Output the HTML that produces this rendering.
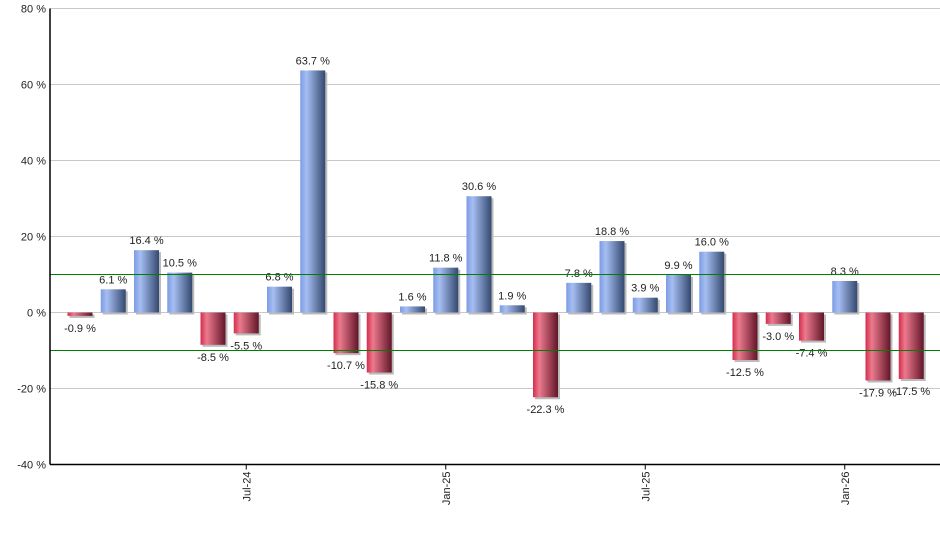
<!DOCTYPE html>
<html><head><meta charset="utf-8"><style>
body{margin:0;background:#fff;}
svg{display:block;font-family:"Liberation Sans",sans-serif;}
</style></head><body>
<svg id="chart" width="940" height="550" viewBox="0 0 940 550">
<defs>
<linearGradient id="gb" x1="0" x2="1" y1="0" y2="0">
<stop offset="0" stop-color="#7c9be4"/><stop offset="0.25" stop-color="#a6bef2"/><stop offset="1" stop-color="#34496f"/></linearGradient>
<linearGradient id="gr" x1="0" x2="1" y1="0" y2="0">
<stop offset="0" stop-color="#d42c4c"/><stop offset="0.25" stop-color="#ec7a8e"/><stop offset="1" stop-color="#621528"/></linearGradient>
</defs>
<g id="grid" shape-rendering="crispEdges"></g><g id="bars"></g><g id="axes"></g>
</svg>
<script>
const months=["Feb-24","Mar-24","Apr-24","May-24","Jun-24","Jul-24","Aug-24","Sep-24","Oct-24","Nov-24","Dec-24","Jan-25","Feb-25","Mar-25","Apr-25","May-25","Jun-25","Jul-25","Aug-25","Sep-25","Oct-25","Nov-25","Dec-25","Jan-26","Feb-26","Mar-26"];
const values=[-0.9,6.1,16.4,10.5,-8.5,-5.5,6.8,63.7,-10.7,-15.8,1.6,11.8,30.6,1.9,-22.3,7.8,18.8,3.9,9.9,16.0,-12.5,-3.0,-7.4,8.3,-17.9,-17.5];
const yTicks=[80,60,40,20,0,-20,-40];
const xLabels=["Jul-24","Jan-25","Jul-25","Jan-26"];
const bands=[10,-10];
const NS="http://www.w3.org/2000/svg";
const L=50,R=940,T=8.5,B=464.5,yMin=-40,yMax=80;
const y=v=>T+(yMax-v)/(yMax-yMin)*(B-T);
const step=33.25, bw=25;
const xc=i=>80+i*step;
function mk(t,a,p){const e=document.createElementNS(NS,t);for(const k in a)e.setAttribute(k,a[k]);p.appendChild(e);return e;}
const grid=document.getElementById('grid'),bars=document.getElementById('bars'),axes=document.getElementById('axes');
yTicks.forEach(v=>{
 const l=mk('line',{x1:L,x2:R,y1:y(v),y2:y(v),stroke:'#c8c8c8','stroke-width':1},grid);
 
 
 const t=mk('text',{x:46,y:y(v)+4,'text-anchor':'end','font-size':11,fill:'#222'},axes);
 t.textContent=v+' %';
 
 
});
values.forEach((v,i)=>{
 const x0=xc(i)-bw/2,top=Math.min(y(v),y(0)),h=Math.abs(y(v)-y(0));
 const s=mk('rect',{x:x0+2,y:top+2,width:bw,height:h,fill:'#bbb'},bars);
 
 
 const r=mk('rect',{x:x0,y:top,width:bw,height:h,fill:v>=0?'url(#gb)':'url(#gr)'},bars);
 
 
 const t=mk('text',{x:xc(i),y:v>=0?y(v)-6:y(v)+16,'text-anchor':'middle','font-size':11,fill:'#222'},bars);
 t.textContent=v.toFixed(1)+' %';
 
 
});
bands.forEach(v=>{
 const l=mk('line',{x1:L,x2:R,y1:y(v),y2:y(v),stroke:'#008000','stroke-width':1,'shape-rendering':'crispEdges'},bars);
 
 
});
const ya=mk('line',{x1:L,x2:L,y1:T,y2:B,stroke:'#000','stroke-width':1.5},axes);


const xa=mk('line',{x1:L,x2:R,y1:B,y2:B,stroke:'#000','stroke-width':1.5},axes);


xLabels.forEach(m=>{
 const i=months.indexOf(m),x=xc(i);
 const tk=mk('line',{x1:x,x2:x,y1:B,y2:B+5,stroke:'#000'},axes);
 
 
 const t=mk('text',{x:0,y:0,'text-anchor':'end','font-size':11,fill:'#222',transform:`translate(${x+4},${B+7}) rotate(-90)`},axes);
 t.textContent=m;
 
 
});
</script>
</body></html>
